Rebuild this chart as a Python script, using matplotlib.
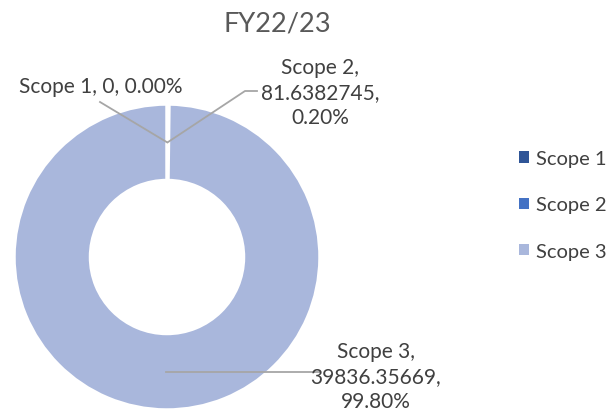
import numpy as np
import matplotlib
matplotlib.use("Agg")
import matplotlib.pyplot as plt
from matplotlib.patches import Patch

plt.rcParams['font.family'] = ['Lato', 'DejaVu Sans']

# data
labels = ['Scope 1', 'Scope 2', 'Scope 3']
values = [0, 81.6382745, 39836.35669]
value_text = ['0', '81.6382745', '39836.35669']
colors = ['#2F5597', '#4472C4', '#A9B7DC']
title = 'FY22/23'

W, H = 614, 414
fig = plt.figure(figsize=(W / 100, H / 100), dpi=100)
ax = fig.add_axes([0, 0, 1, 1])

cx, cy, r = 167, H - 258, 153
ring = 0.5
wedges, _ = ax.pie(values, colors=colors, startangle=90, counterclock=False,
                   center=(cx, cy), radius=r, frame=True,
                   wedgeprops=dict(width=r * ring, edgecolor='white', linewidth=2.5))
ax.set_xlim(0, W)
ax.set_ylim(0, H)
ax.set_aspect('auto')
ax.axis('off')

fig.text(277 / W, 1 - 24 / H, title, ha='center', va='center', fontsize=19.5, color='#595959')

total = sum(values)
pct = [v / total * 100 for v in values]
rm = r * (1 - ring / 2)

def mid_point(w):
    a = np.deg2rad((w.theta1 + w.theta2) / 2)
    return cx + rm * np.cos(a), cy + rm * np.sin(a)

line_kw = dict(color='#A6A6A6', lw=1.3)
txt_kw = dict(fontsize=15, color='#404040', ha='center', va='center', linespacing=1.3)

# Scope 1
x0, y0 = mid_point(wedges[0])
ax.plot([x0, 100], [y0, H - 103], **line_kw)
ax.text(101, H - 87, f'{labels[0]}, {value_text[0]}, {pct[0]:.2f}%', **txt_kw)

# Scope 2
x0, y0 = mid_point(wedges[1])
ax.plot([x0, 245, 257], [y0, H - 92, H - 92], **line_kw)
ax.text(320, H - 93, f'{labels[1]},\n{value_text[1]},\n{pct[1]:.2f}%', **txt_kw)

# Scope 3
x0, y0 = mid_point(wedges[2])
ax.plot([x0, 320], [y0, y0], **line_kw)
ax.text(376, H - 377, f'{labels[2]},\n{value_text[2]},\n{pct[2]:.2f}%', **txt_kw)

handles = [Patch(facecolor=c, edgecolor='none') for c in colors]
ax.legend(handles, labels, loc='center left', bbox_to_anchor=(519 / W, 1 - 206 / H),
          frameon=False, fontsize=14.5, handlelength=0.5, handleheight=0.5,
          handletextpad=0.35, labelspacing=1.45, labelcolor='#404040',
          borderpad=0, borderaxespad=0)

fig.savefig('out.png', dpi=100)
